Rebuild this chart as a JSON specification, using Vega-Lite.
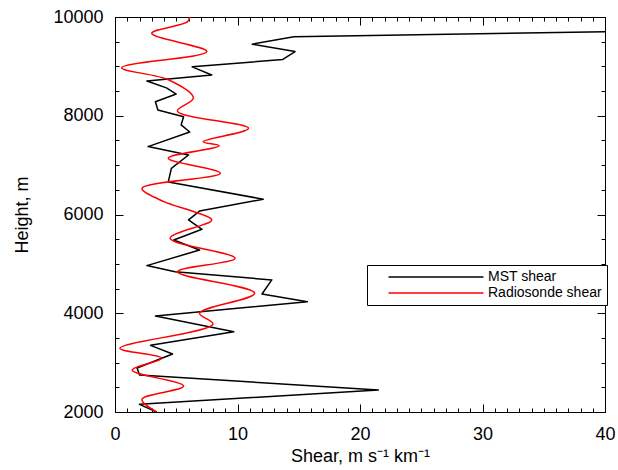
{
  "$schema": "https://vega.github.io/schema/vega-lite/v6.json",
  "width": 490,
  "height": 395,
  "autosize": {"type": "none"},
  "padding": {"left": 115, "top": 17, "right": 13, "bottom": 58},
  "background": "white",
  "config": {"view": {"stroke": "black", "strokeWidth": 1}, "font": "Liberation Sans"},
  "data": {"values": [
    {"series": "MST shear", "shear": 40, "height": 9700},
    {"series": "MST shear", "shear": 14.6, "height": 9600},
    {"series": "MST shear", "shear": 11.2, "height": 9450},
    {"series": "MST shear", "shear": 14.7, "height": 9300},
    {"series": "MST shear", "shear": 13.7, "height": 9140},
    {"series": "MST shear", "shear": 6.3, "height": 8990},
    {"series": "MST shear", "shear": 7.9, "height": 8825},
    {"series": "MST shear", "shear": 2.6, "height": 8705},
    {"series": "MST shear", "shear": 4.2, "height": 8565},
    {"series": "MST shear", "shear": 5.0, "height": 8440},
    {"series": "MST shear", "shear": 3.3, "height": 8285},
    {"series": "MST shear", "shear": 3.5, "height": 8115},
    {"series": "MST shear", "shear": 5.6, "height": 7980},
    {"series": "MST shear", "shear": 5.4, "height": 7815},
    {"series": "MST shear", "shear": 6.1, "height": 7670},
    {"series": "MST shear", "shear": 2.7, "height": 7375},
    {"series": "MST shear", "shear": 6.0, "height": 7205},
    {"series": "MST shear", "shear": 4.6, "height": 6935},
    {"series": "MST shear", "shear": 4.35, "height": 6660},
    {"series": "MST shear", "shear": 12.1, "height": 6310},
    {"series": "MST shear", "shear": 6.9, "height": 6070},
    {"series": "MST shear", "shear": 6.0, "height": 5890},
    {"series": "MST shear", "shear": 7.1, "height": 5700},
    {"series": "MST shear", "shear": 4.8, "height": 5485},
    {"series": "MST shear", "shear": 6.9, "height": 5280},
    {"series": "MST shear", "shear": 2.6, "height": 4965},
    {"series": "MST shear", "shear": 4.9, "height": 4840},
    {"series": "MST shear", "shear": 12.8, "height": 4675},
    {"series": "MST shear", "shear": 12.0, "height": 4390},
    {"series": "MST shear", "shear": 15.7, "height": 4235},
    {"series": "MST shear", "shear": 3.3, "height": 3945},
    {"series": "MST shear", "shear": 9.7, "height": 3625},
    {"series": "MST shear", "shear": 2.9, "height": 3350},
    {"series": "MST shear", "shear": 4.7, "height": 3175},
    {"series": "MST shear", "shear": 1.8, "height": 2890},
    {"series": "MST shear", "shear": 2.0, "height": 2750},
    {"series": "MST shear", "shear": 21.5, "height": 2445},
    {"series": "MST shear", "shear": 2.0, "height": 2155},
    {"series": "MST shear", "shear": 3.4, "height": 2000},
    {"series": "Radiosonde shear", "shear": 6.1, "height": 10000},
    {"series": "Radiosonde shear", "shear": 5.9, "height": 9900},
    {"series": "Radiosonde shear", "shear": 3.0, "height": 9670},
    {"series": "Radiosonde shear", "shear": 7.5, "height": 9300},
    {"series": "Radiosonde shear", "shear": 0.55, "height": 8975},
    {"series": "Radiosonde shear", "shear": 4.4, "height": 8725},
    {"series": "Radiosonde shear", "shear": 6.4, "height": 8360},
    {"series": "Radiosonde shear", "shear": 5.1, "height": 8095},
    {"series": "Radiosonde shear", "shear": 10.9, "height": 7745},
    {"series": "Radiosonde shear", "shear": 7.2, "height": 7475},
    {"series": "Radiosonde shear", "shear": 8.5, "height": 7390},
    {"series": "Radiosonde shear", "shear": 4.35, "height": 7140},
    {"series": "Radiosonde shear", "shear": 8.6, "height": 6835},
    {"series": "Radiosonde shear", "shear": 2.2, "height": 6530},
    {"series": "Radiosonde shear", "shear": 4.0, "height": 6260},
    {"series": "Radiosonde shear", "shear": 6.4, "height": 6060},
    {"series": "Radiosonde shear", "shear": 7.9, "height": 5890},
    {"series": "Radiosonde shear", "shear": 4.5, "height": 5520},
    {"series": "Radiosonde shear", "shear": 9.8, "height": 5115},
    {"series": "Radiosonde shear", "shear": 5.1, "height": 4840},
    {"series": "Radiosonde shear", "shear": 11.4, "height": 4405},
    {"series": "Radiosonde shear", "shear": 6.9, "height": 4000},
    {"series": "Radiosonde shear", "shear": 8.0, "height": 3780},
    {"series": "Radiosonde shear", "shear": 0.4, "height": 3290},
    {"series": "Radiosonde shear", "shear": 3.8, "height": 3090},
    {"series": "Radiosonde shear", "shear": 1.4, "height": 2850},
    {"series": "Radiosonde shear", "shear": 5.6, "height": 2525},
    {"series": "Radiosonde shear", "shear": 2.2, "height": 2255},
    {"series": "Radiosonde shear", "shear": 3.4, "height": 2000}
  ]},
  "layer": [
    {
      "transform": [{"filter": "datum.series === 'MST shear'"}],
      "mark": {"type": "line", "strokeWidth": 1.5, "interpolate": "linear", "strokeJoin": "round", "clip": true},
      "encoding": {
        "x": {"field": "shear", "type": "quantitative",
          "scale": {"domain": [0, 40], "nice": false, "zero": false},
          "axis": {"orient": "bottom",
            "values": [0,1,2,3,4,5,6,7,8,9,10,11,12,13,14,15,16,17,18,19,20,21,22,23,24,25,26,27,28,29,30,31,32,33,34,35,36,37,38,39,40],
            "labelExpr": "datum.value % 10 === 0 ? datum.label : ''",
            "tickSize": {"condition": {"test": "datum.value % 10 === 0", "value": -8}, "value": -4},
            "grid": false, "domainColor": "black", "tickColor": "black", "tickWidth": 1,
            "labelColor": "black", "labelFontSize": 18, "labelFont": "Liberation Sans",
            "labelPadding": 21, "labelFlush": false, "labelOverlap": false, "labelBound": false,
            "title": "Shear, m s⁻¹ km⁻¹", "titleFontSize": 18, "titleFontWeight": "normal",
            "titleFont": "Liberation Sans", "titleColor": "black", "titlePadding": 0}},
        "y": {"field": "height", "type": "quantitative",
          "scale": {"domain": [2000, 10000], "nice": false, "zero": false},
          "axis": {"orient": "left",
            "values": [2000,2500,3000,3500,4000,4500,5000,5500,6000,6500,7000,7500,8000,8500,9000,9500,10000],
            "format": "d",
            "labelExpr": "datum.value % 2000 === 0 ? datum.label : ''",
            "tickSize": {"condition": {"test": "datum.value % 2000 === 0", "value": -8}, "value": -4},
            "grid": false, "domainColor": "black", "tickColor": "black", "tickWidth": 1,
            "labelColor": "black", "labelFontSize": 18, "labelFont": "Liberation Sans",
            "labelPadding": 20, "labelFlush": false, "labelOverlap": false, "labelBound": false,
            "title": "Height, m", "titleFontSize": 18, "titleFontWeight": "normal",
            "titleFont": "Liberation Sans", "titleColor": "black", "titlePadding": 21}},
        "order": {"field": "height", "type": "quantitative"},
        "color": {"field": "series", "type": "nominal",
          "scale": {"domain": ["MST shear", "Radiosonde shear"], "range": ["#000000", "#ff0000"]},
          "legend": {"orient": "none", "legendX": 252, "legendY": 248, "title": null,
            "symbolType": "M-9.5,0H9.5", "symbolSize": 100, "symbolStrokeWidth": 1.5,
            "symbolOffset": 57,
            "labelFontSize": 14, "labelFont": "Liberation Sans", "labelColor": "black",
            "strokeColor": "black", "fillColor": "white", "padding": 5, "rowPadding": 2,
            "labelOffset": 45}}
      }
    },
    {
      "transform": [{"filter": "datum.series === 'Radiosonde shear'"}],
      "mark": {"type": "line", "strokeWidth": 1.5, "interpolate": "catmull-rom", "strokeJoin": "round", "clip": true},
      "encoding": {
        "x": {"field": "shear", "type": "quantitative",
          "axis": {"orient": "top",
            "values": [0,1,2,3,4,5,6,7,8,9,10,11,12,13,14,15,16,17,18,19,20,21,22,23,24,25,26,27,28,29,30,31,32,33,34,35,36,37,38,39,40],
            "labels": false, "title": null, "grid": false,
            "tickSize": {"condition": {"test": "datum.value % 10 === 0", "value": -8}, "value": -4},
            "domainColor": "black", "tickColor": "black", "tickWidth": 1}},
        "y": {"field": "height", "type": "quantitative",
          "axis": {"orient": "right",
            "values": [2000,2500,3000,3500,4000,4500,5000,5500,6000,6500,7000,7500,8000,8500,9000,9500,10000],
            "labels": false, "title": null, "grid": false,
            "tickSize": {"condition": {"test": "datum.value % 2000 === 0", "value": -8}, "value": -4},
            "domainColor": "black", "tickColor": "black", "tickWidth": 1}},
        "order": {"field": "height", "type": "quantitative"},
        "color": {"field": "series", "type": "nominal"}
      }
    }
  ],
  "resolve": {"axis": {"x": "independent", "y": "independent"}}
}
